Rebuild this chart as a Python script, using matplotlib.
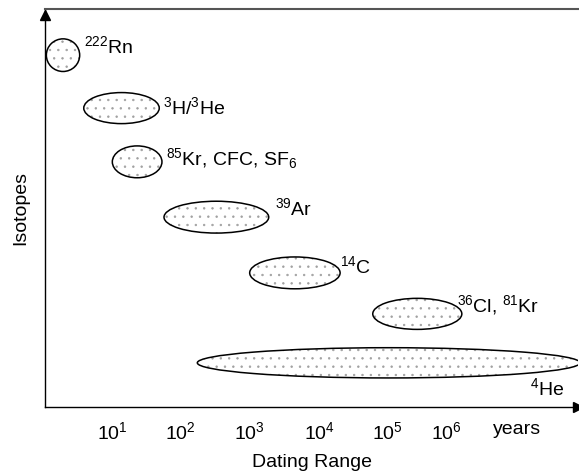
import matplotlib
matplotlib.use("Agg")
import matplotlib.pyplot as plt
from matplotlib.patches import Ellipse

plt.rcParams["font.family"] = ["Liberation Sans", "DejaVu Sans"]
plt.rcParams["mathtext.fontset"] = "custom"
plt.rcParams["mathtext.rm"] = "Liberation Sans"
plt.rcParams["mathtext.it"] = "Liberation Sans"
plt.rcParams["mathtext.bf"] = "Liberation Sans"
plt.rcParams["hatch.linewidth"] = 0.5

# dating range of each tracer, in log10(years)
isotopes = ["$^{222}$Rn", "$^{3}$H/$^{3}$He", "$^{85}$Kr, CFC, SF$_6$",
            "$^{39}$Ar", "$^{14}$C", "$^{36}$Cl, $^{81}$Kr", "$^{4}$He"]
range_lo = [0.02, 0.57, 0.99, 1.75, 3.01, 4.82, 2.24]
range_hi = [0.51, 1.68, 1.72, 3.29, 4.34, 6.13, 7.87]
row_y = [8.84, 7.51, 6.16, 4.77, 3.37, 2.34, 1.11]
row_h = [0.82, 0.78, 0.80, 0.80, 0.80, 0.78, 0.76]

# label anchors (left x, baseline y)
label_x = [0.57, 1.74, 1.78, 3.38, 4.34, 6.06, 7.13]
label_y = [8.88, 7.36, 6.08, 4.82, 3.37, 2.39, 0.30]

tick_pos = [0.99, 1.99, 3.01, 4.04, 5.03, 5.91, 6.94]
tick_labels = ["$10^1$", "$10^2$", "$10^3$", "$10^4$", "$10^5$", "$10^6$", "years"]

fs = 14

fig = plt.figure(figsize=(5.79, 4.73), dpi=100)
ax = fig.add_axes([45 / 579, 66 / 473, 533 / 579, 398 / 473])
ax.set_xlim(0, 533 / 68)
ax.set_ylim(0, 10)

for lo, hi, y, h in zip(range_lo, range_hi, row_y, row_h):
    c = ((lo + hi) / 2, y)
    # stippled fill
    ax.add_patch(Ellipse(c, hi - lo, h, facecolor="white", edgecolor="#a0a0a0",
                         linewidth=0, hatch=".."))
    # outline
    ax.add_patch(Ellipse(c, hi - lo, h, facecolor="none", edgecolor="black",
                         linewidth=1.1))

for name, x, y in zip(isotopes, label_x, label_y):
    ax.text(x, y, name, fontsize=fs, ha="left", va="baseline")

ax.spines["right"].set_visible(False)
ax.spines["top"].set_color("#555555")
ax.spines["top"].set_linewidth(1.5)
ax.spines["left"].set_linewidth(1.0)
ax.spines["bottom"].set_linewidth(1.0)

# arrow heads on axes
ax.plot(1, 0, ">k", markersize=7, transform=ax.transAxes, clip_on=False)
ax.plot(0, 0.985, "^k", markersize=7, transform=ax.transAxes, clip_on=False)

ax.set_xticks(tick_pos, tick_labels)
ax.set_yticks([])
ax.tick_params(axis="x", length=0, pad=10, labelsize=fs)
ax.set_xlabel("Dating Range", fontsize=fs, labelpad=8)
ax.set_ylabel("Isotopes", fontsize=fs, labelpad=11)

fig.savefig("out.png", dpi=100)
